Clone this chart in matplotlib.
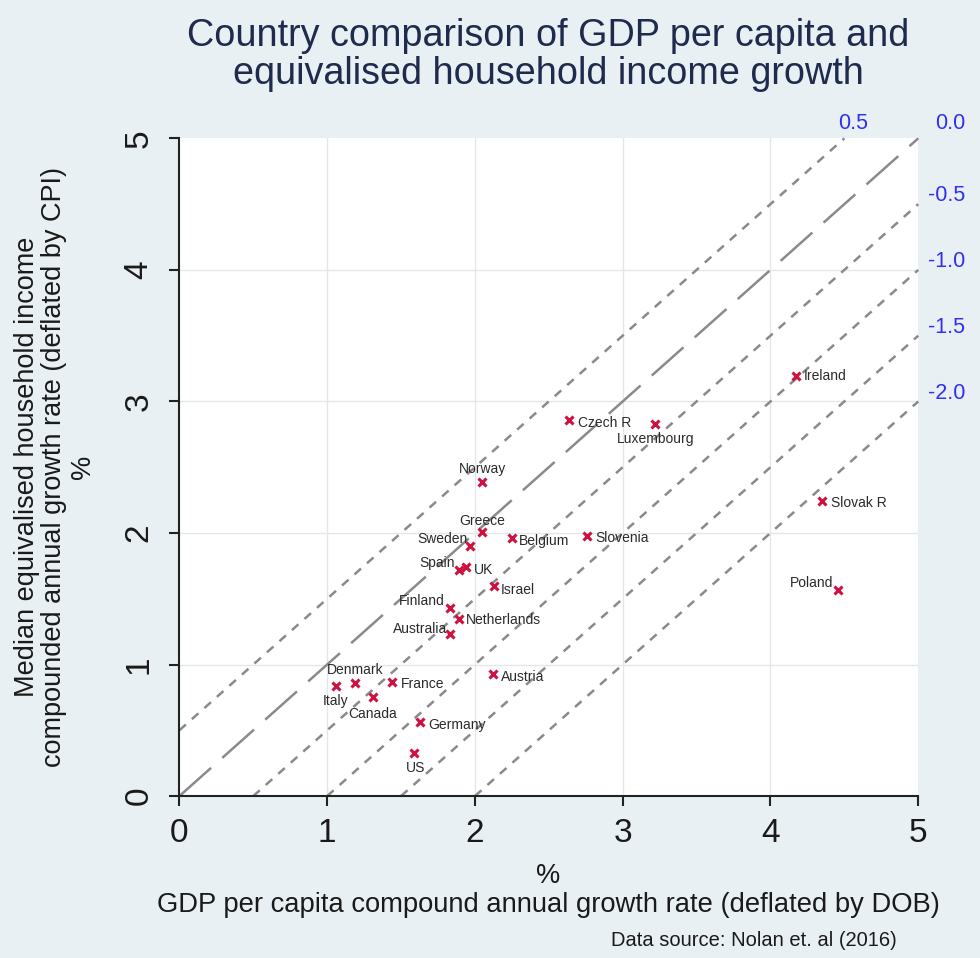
import matplotlib
matplotlib.use("Agg")
import matplotlib.pyplot as plt
import numpy as np

plt.rcParams['font.family'] = ['Liberation Sans', 'DejaVu Sans']

countries = ["Ireland", "Czech R", "Luxembourg", "Norway", "Greece", "Sweden",
             "Belgium", "Slovenia", "Spain", "UK", "Israel", "Finland",
             "Netherlands", "Australia", "Denmark", "Italy", "France", "Canada",
             "Austria", "Germany", "US", "Slovak R", "Poland"]
gdp_growth = [4.17, 2.64, 3.22, 2.05, 2.05, 1.97,
              2.25, 2.76, 1.89, 1.94, 2.13, 1.83,
              1.89, 1.83, 1.19, 1.06, 1.44, 1.31,
              2.12, 1.63, 1.59, 4.35, 4.46]
income_growth = [3.19, 2.86, 2.83, 2.39, 2.01, 1.90,
                 1.96, 1.98, 1.72, 1.74, 1.60, 1.43,
                 1.35, 1.23, 0.86, 0.84, 0.87, 0.75,
                 0.93, 0.56, 0.33, 2.24, 1.57]
gap_levels = [0.5, 0.0, -0.5, -1.0, -1.5, -2.0]
gap_labels = ["0.5", "0.0", "-0.5", "-1.0", "-1.5", "-2.0"]
ticks = [0, 1, 2, 3, 4, 5]

# label placement (offset in points, alignment)
label_style = {
    "Ireland": (6, 0, "left", "center"),
    "Czech R": (6, -2, "left", "center"),
    "Luxembourg": (0, -11, "center", "center"),
    "Norway": (0, 9, "center", "center"),
    "Greece": (0, 8, "center", "center"),
    "Sweden": (-2, 5, "right", "center"),
    "Belgium": (5, -2, "left", "center"),
    "Slovenia": (6, -2, "left", "center"),
    "Spain": (-3, 5, "right", "center"),
    "UK": (6, -2, "left", "center"),
    "Israel": (5, -3, "left", "center"),
    "Finland": (-4, 5, "right", "center"),
    "Netherlands": (5, -1, "left", "center"),
    "Australia": (-2, 4, "right", "center"),
    "Denmark": (0, 9, "center", "center"),
    "Italy": (0, -11, "center", "center"),
    "France": (6, -2, "left", "center"),
    "Canada": (0, -12, "center", "center"),
    "Austria": (6, -2, "left", "center"),
    "Germany": (6, -2, "left", "center"),
    "US": (1, -11, "center", "center"),
    "Slovak R": (6, -1, "left", "center"),
    "Poland": (-4, 5, "right", "center"),
}

bg = "#e9f0f3"
fig = plt.figure(figsize=(9.8, 9.58), dpi=100, facecolor=bg)
ax = fig.add_axes([0.183, 0.169, 0.754, 0.6866])
ax.set_facecolor("white")
ax.set_xlim(0, 5)
ax.set_ylim(0, 5)

for t in ticks[1:-1]:
    ax.axvline(t, color="#e4e6e8", lw=1.0, zorder=0)
    ax.axhline(t, color="#e4e6e8", lw=1.0, zorder=0)

blue = "#3030f0"
for c, lab in zip(gap_levels, gap_labels):
    x0 = max(0.0, -c)
    x1 = min(5.0, 5.0 - c)
    xs = np.array([x0, x1])
    if c == 0:
        ax.plot(xs, xs + c, color="#8a8a8a", lw=1.8, dashes=(17, 6), zorder=1, clip_on=False)
    else:
        ax.plot(xs, xs + c, color="#8a8a8a", lw=1.8, dashes=(3.5, 3.2), zorder=1, clip_on=False)
    if c > 0:
        ax.annotate(lab, xy=(x1, x1 + c), xytext=(6, 11), textcoords="offset points",
                    ha="center", va="center", color=blue, fontsize=15.5,
                    annotation_clip=False)
    elif c == 0:
        ax.annotate(lab, xy=(x1, x1 + c), xytext=(34, 11), textcoords="offset points",
                    ha="right", va="center", color=blue, fontsize=15.5,
                    annotation_clip=False)
    else:
        ax.annotate(lab, xy=(x1, x1 + c), xytext=(34, 6), textcoords="offset points",
                    ha="right", va="center", color=blue, fontsize=15.5,
                    annotation_clip=False)

ax.plot(gdp_growth, income_growth, linestyle="none", marker="x", color="#d0103e",
        markersize=5.5, markeredgewidth=2.2, zorder=3)

for name, xv, yv in zip(countries, gdp_growth, income_growth):
    dx, dy, ha, va = label_style[name]
    ax.annotate(name, xy=(xv, yv), xytext=(dx, dy), textcoords="offset points",
                ha=ha, va=va, fontsize=10, color="#2a2a2a", zorder=4)

for s in ["top", "right"]:
    ax.spines[s].set_visible(False)
for s in ["left", "bottom"]:
    ax.spines[s].set_color("#222222")
    ax.spines[s].set_linewidth(1.5)

ax.set_xticks(ticks)
ax.set_yticks(ticks)
ax.set_xticklabels([str(t) for t in ticks], fontsize=24, color="#1a1a1a")
ax.set_yticklabels([str(t) for t in ticks], fontsize=24, color="#1a1a1a",
                   rotation=90, va="center")
ax.tick_params(axis="both", length=7, width=1.5, color="#222222")
ax.tick_params(axis="x", pad=9)
ax.tick_params(axis="y", pad=11)

navy = "#1f2b4d"
fig.text(0.5597, 1 - 36 / 958, "Country comparison of GDP per capita and",
         ha="center", va="center", fontsize=27.2, color=navy)
fig.text(0.5597, 1 - 74 / 958, "equivalised household income growth",
         ha="center", va="center", fontsize=27.2, color=navy)

fig.text(0.5597, 1 - 876 / 958, "%", ha="center", va="center", fontsize=19.5, color="#1a1a1a")
fig.text(0.5597, 1 - 905 / 958, "GDP per capita compound annual growth rate (deflated by DOB)",
         ha="center", va="center", fontsize=19.7, color="#1a1a1a")

ylab_y = 1 - 467 / 958
fig.text(27 / 980, ylab_y, "Median equivalised household income", rotation=90,
         ha="center", va="center", fontsize=19.5, color="#1a1a1a")
fig.text(54 / 980, ylab_y, "compounded annual growth rate (deflated by CPI)", rotation=90,
         ha="center", va="center", fontsize=19.5, color="#1a1a1a")
fig.text(83 / 980, ylab_y, "%", rotation=90,
         ha="center", va="center", fontsize=19.5, color="#1a1a1a")

fig.text(897 / 980, 1 - 941 / 958, "Data source: Nolan et. al (2016)",
         ha="right", va="center", fontsize=14.5, color="#1a1a1a")

fig.savefig("out.png", dpi=100, facecolor=bg)
